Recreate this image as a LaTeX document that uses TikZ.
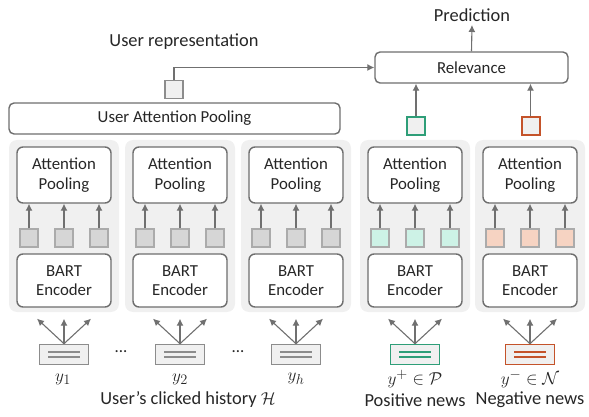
\documentclass[tikz,border=0pt]{standalone}
\usepackage{fontspec}
\setmainfont{Carlito}
\usetikzlibrary{arrows.meta}

\definecolor{panelgray}{HTML}{F0F0F0}
\definecolor{boxline}{HTML}{6E6E6E}
\definecolor{arrowgray}{HTML}{707070}
\definecolor{sqline}{HTML}{ABABAB}
\definecolor{sqgray}{HTML}{D6D6D6}
\definecolor{sqmint}{HTML}{CDF2E6}
\definecolor{sqpeach}{HTML}{F6D3C2}
\definecolor{docgray}{HTML}{8C8C8C}
\definecolor{posgreen}{HTML}{2E9E78}
\definecolor{negorange}{HTML}{C4532A}
\definecolor{txt}{HTML}{262626}

\newcommand{\mathlbl}{\fontsize{19}{22}\selectfont}
\newcommand{\outlbl}{\fontsize{18.4}{21}\selectfont}

\tikzset{
  panel/.style={fill=panelgray, rounded corners=8pt, minimum width=110pt, minimum height=172pt, inner sep=0},
  block/.style={draw=boxline, line width=1.4pt, fill=white, rounded corners=6pt, align=center, inner sep=0},
  vec/.style={line width=1.4pt, minimum size=18pt, inner sep=0},
  outvec/.style={line width=2pt, fill=panelgray, minimum size=18pt, inner sep=0},
  doc/.style={line width=1.6pt, fill=panelgray, minimum width=49pt, minimum height=20pt, inner sep=0},
  flow/.style={->, draw=arrowgray, line width=1.1pt},
  lbl/.style={font=\outlbl},
}

\begin{document}
\begin{tikzpicture}[x=1pt, y=-1pt, >={Latex[length=7pt,width=7pt]}, font=\fontsize{16.8}{19.5}\selectfont, text=txt]
    \useasboundingbox (0,0) rectangle (589,417);
    % one column per news item
    \foreach \cx/\n/\sq/\dc in {64/a/sqgray/docgray, 180/b/sqgray/docgray, 296/c/sqgray/docgray, 415/p/sqmint/posgreen, 530/n/sqpeach/negorange}{
        \node[panel] (panel\n) at (\cx, 226) {};
        \node[block, minimum width=94pt, minimum height=56pt] (att\n) at (\cx, 175) {Attention\\Pooling};
        \node[block, minimum width=94pt, minimum height=53pt] (enc\n) at (\cx, 280.5) {BART\\Encoder};
        \foreach \k/\dx in {1/-35, 2/0, 3/35}{
            \node[vec, draw=sqline, fill=\sq] (s\n\k) at (\cx+\dx, 238) {};
            \draw[flow] (s\n\k) -- (s\n\k |- att\n.south);
        }
        \node[doc, draw=\dc] (doc\n) at (\cx, 354.5) {};
        \draw[\dc, line width=1.5pt] ([xshift=-16pt, yshift=2.5pt]doc\n.center) -- ++(32, 0);
        \draw[\dc, line width=1.5pt] ([xshift=-16pt, yshift=-2.5pt]doc\n.center) -- ++(32, 0);
        \foreach \dx in {-27, 0, 27}
            \draw[flow] (doc\n.north) -- ([xshift=\dx pt, yshift=-11pt]enc\n.south);
    }
    % labels under the news items
    \node[font=\mathlbl] (ya) at (63, 379) {$y_1$};
    \node[font=\mathlbl] (yb) at (180, 379) {$y_2$};
    \node[font=\mathlbl] (yc) at (296, 379) {$y_h$};
    \node (dots1) at (121, 352) {...};
    \node (dots2) at (238, 352) {...};
    \node[lbl] (hist) at (188, 399) {User’s clicked history {\mathlbl$\mathcal{H}$}};
    \node[font=\mathlbl] (yp) at (415, 379) {$y^{+} \in \mathcal{P}$};
    \node[lbl] (posl) at (415, 400) {Positive news};
    \node[font=\mathlbl] (yn) at (530, 379) {$y^{-} \in \mathcal{N}$};
    \node[lbl] (negl) at (530, 400) {Negative news};
    % user side
    \node[block, rounded corners=5pt, minimum width=331pt, minimum height=31pt] (uap) at (174.5, 118.5) {User Attention Pooling};
    \node[vec, fill=panelgray, draw=docgray] (urep) at (174, 89.5) {};
    \node[lbl] (ureplbl) at (184, 42) {User representation};
    % candidate side
    \node[block, rounded corners=5pt, minimum width=193pt, minimum height=31pt] (rel) at (471.5, 67.5) {Relevance};
    \node[lbl] (pred) at (472, 15) {Prediction};
    \node[outvec, draw=posgreen] (pvec) at (416, 126.5) {};
    \node[outvec, draw=negorange] (nvec) at (530.5, 126.5) {};
    \draw[flow] (urep.north) |- (rel.west);
    \draw[flow] (rel.north) -- (pred.south);
    \draw[flow] (pvec.north) -- (pvec.north |- rel.south);
    \draw[flow] (nvec.north) -- (nvec.north |- rel.south);
\end{tikzpicture}
\end{document}
